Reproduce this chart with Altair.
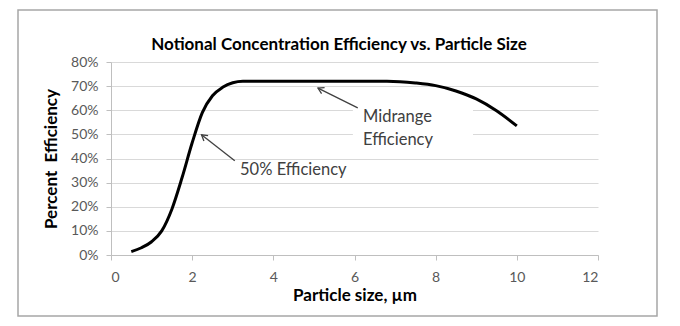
import math
import altair as alt
import pandas as pd

# Curve data (particle size in µm, efficiency in %)
size_um = [0.5, 0.75, 1.0, 1.25, 1.5, 1.75, 2.0, 2.25, 2.5, 2.75, 3.0, 3.25,
           4.0, 5.0, 6.0, 6.8, 7.5, 8.0, 8.5, 9.0, 9.5, 10.0]
efficiency = [1.4, 3.0, 5.5, 10.0, 19.0, 32.0, 46.5, 59.0, 66.0, 69.5, 71.4, 72.0,
              72.0, 72.0, 72.0, 72.0, 71.3, 70.2, 68.0, 64.7, 59.8, 53.5]

# Annotations
label_text = ["Midrange", "Efficiency", "50% Efficiency"]
label_x = [6.21, 6.21, 3.18]
label_y = [57.0, 47.7, 35.3]

arrow_x_tail = [6.08, 3.05]
arrow_y_tail = [61.0, 39.1]
arrow_x_head = [5.10, 2.23]
arrow_y_head = [69.2, 49.8]

box_x = [5.96]
box_x2 = [8.92]
box_y = [44.0]
box_y2 = [62.5]

chart_title = ["Notional Concentration Efficiency vs. Particle Size"]

x_ticks = [0, 2, 4, 6, 8, 10, 12]
y_ticks = [0, 10, 20, 30, 40, 50, 60, 70, 80]

W, H = 487, 193
X_MAX, Y_MAX = 12, 80
FONT = "Lato"

curve = pd.DataFrame({"x": size_um, "y": efficiency})
labels = pd.DataFrame({"t": label_text, "x": label_x, "y": label_y})
arrows = pd.DataFrame({"x": arrow_x_tail, "y": arrow_y_tail,
                       "x2": arrow_x_head, "y2": arrow_y_head})
# direction of arrowhead in screen space (clockwise degrees from up)
angles = []
for xt, yt, xh, yh in zip(arrow_x_tail, arrow_y_tail, arrow_x_head, arrow_y_head):
    dx = (xh - xt) * W / X_MAX
    dy = -(yh - yt) * H / Y_MAX
    angles.append(math.degrees(math.atan2(dx, -dy)) % 360)
arrows["angle"] = angles
box = pd.DataFrame({"x": box_x, "x2": box_x2, "y": box_y, "y2": box_y2})
title_df = pd.DataFrame({"t": chart_title})

xs = alt.Scale(domain=[0, X_MAX], nice=False)
ys = alt.Scale(domain=[0, Y_MAX], nice=False)

x_axis = alt.Axis(values=x_ticks, grid=False, domainColor="#BFBFBF", tickColor="#BFBFBF",
                  tickSize=5, labelPadding=10, labelFontSize=14, labelColor="#595959",
                  labelFont=FONT, labelOverlap=False,
                  title="Particle size, µm", titleFont=FONT, titleFontSize=17,
                  titleFontWeight="bold", titleColor="#000000", titlePadding=3)
y_axis = alt.Axis(values=y_ticks, grid=True, gridColor="#D9D9D9", gridWidth=1,
                  domainColor="#BFBFBF", tickColor="#BFBFBF", tickSize=5, labelPadding=8,
                  labelFontSize=14, labelColor="#595959", labelFont=FONT, labelOverlap=False,
                  labelExpr="datum.value + '%'", title="Percent\u00a0 Efficiency",
                  titleFont=FONT, titleFontSize=17, titleFontWeight="bold",
                  titleColor="#000000", titlePadding=10)


def X(field):
    return alt.X(field, type="quantitative", scale=xs, axis=x_axis)


def Y(field):
    return alt.Y(field, type="quantitative", scale=ys, axis=y_axis)


base_grid = alt.Chart(curve).mark_line(opacity=0).encode(x=X("x"), y=Y("y"))

border = alt.Chart(box).mark_rect(fill=None, stroke="#A6A6A6", strokeWidth=1.5).encode(
    x=alt.value(-93), x2=alt.value(546), y=alt.value(-52), y2=alt.value(254)
)

title_mark = alt.Chart(title_df).mark_text(
    font=FONT, fontSize=17, fontWeight="bold", color="#000000",
    align="center", baseline="middle"
).encode(x=alt.value(228), y=alt.value(-17), text="t:N")

white_box = alt.Chart(box).mark_rect(fill="white", stroke=None).encode(
    x=X("x"), x2="x2:Q", y=Y("y"), y2="y2:Q",
)

rules = alt.Chart(arrows).mark_rule(color="#404040", strokeWidth=1.3).encode(
    x=X("x"), y=Y("y"), x2="x2:Q", y2="y2:Q"
)
heads = alt.Chart(arrows).mark_point(
    shape="M -0.6 1 L 0 0 L 0.6 1", filled=False, size=130,
    stroke="#404040", strokeWidth=1.3, opacity=1
).encode(
    x=X("x2"), y=Y("y2"),
    angle=alt.Angle("angle:Q", scale=None),
)

texts = alt.Chart(labels).mark_text(
    align="left", baseline="middle", font=FONT, fontSize=16.5, color="#404040"
).encode(x=X("x"), y=Y("y"), text="t:N")

line = alt.Chart(curve).mark_line(
    color="#000000", strokeWidth=3, interpolate="monotone"
).encode(x=X("x"), y=Y("y"))

chart = alt.layer(base_grid, border, title_mark, white_box, rules, heads, texts, line).properties(
    width=W, height=H,
    autosize=alt.AutoSizeParams(type="none"),
    padding={"left": 111, "top": 62, "right": 82, "bottom": 71},
    background="white",
).configure_view(stroke=None)

chart.save("out.html", embed_options={"renderer": "svg", "actions": False})
